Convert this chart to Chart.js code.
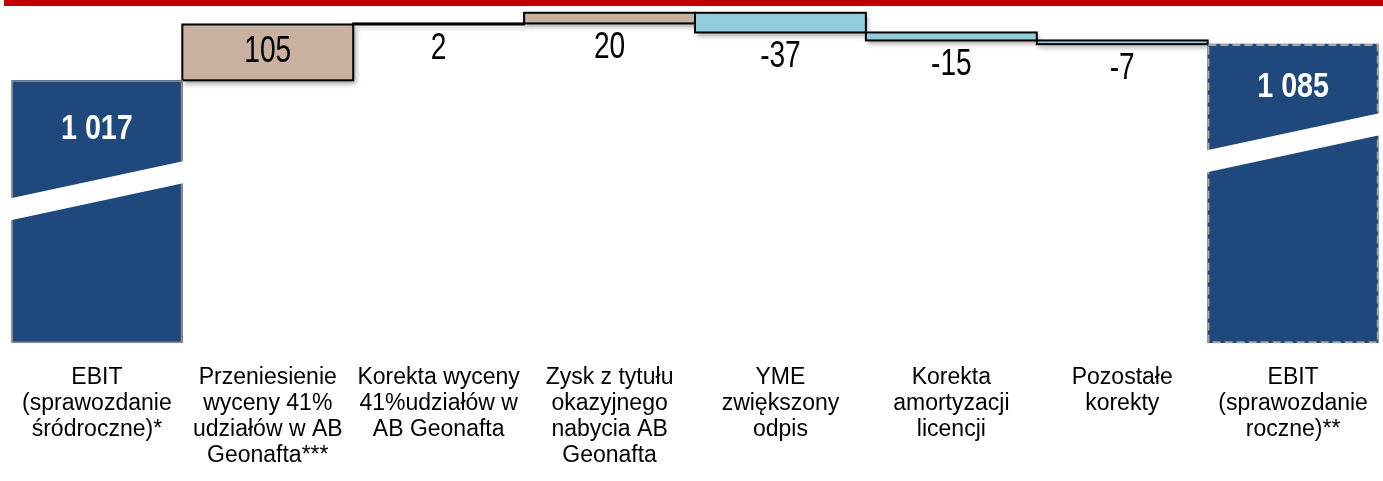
<!DOCTYPE html>
<html>
<head>
<meta charset="utf-8">
<script src="https://cdn.jsdelivr.net/npm/chart.js@4/dist/chart.umd.min.js"></script>
<style>
  html, body { margin: 0; padding: 0; background: #fff; overflow: hidden; }
  #wrap { position: relative; width: 1390px; height: 494px; }
</style>
</head>
<body>
<div id="wrap"><canvas id="c"></canvas></div>
<script>
// ---- data ----
const categories = [
  ['EBIT', '(sprawozdanie', 'śródroczne)*'],
  ['Przeniesienie', 'wyceny 41%', 'udziałów w AB', 'Geonafta***'],
  ['Korekta wyceny', '41%udziałów w', 'AB Geonafta'],
  ['Zysk z tytułu', 'okazyjnego', 'nabycia AB', 'Geonafta'],
  ['YME', 'zwiększony', 'odpis'],
  ['Korekta', 'amortyzacji', 'licencji'],
  ['Pozostałe', 'korekty'],
  ['EBIT', '(sprawozdanie', 'roczne)**']
];
const startTotal = 1017;
const changes = [105, 2, 20, -37, -15, -7];
const endTotal = 1085;

// ---- axis range (broken axis) ----
const AXIS_MIN = 523;
const AXIS_MAX = 1153;

// ---- build floating bars from the values ----
const totalsData = categories.map(() => null);
totalsData[0] = [AXIS_MIN, startTotal];
totalsData[categories.length - 1] = [AXIS_MIN, endTotal];

const changesData = categories.map(() => null);
let level = startTotal;
changes.forEach((d, i) => {
  changesData[i + 1] = [level, level + d];
  level += d;
});

const posColor = '#C9B09F';
const negColor = '#93CDDD';
const totalColor = '#1F497D';
const changeColors = categories.map((_, i) => {
  const d = changes[i - 1];
  return d === undefined ? 'rgba(0,0,0,0)' : (d >= 0 ? posColor : negColor);
});

const SANS = '"Liberation Sans", Arial, sans-serif';
const breakFrac = { 0: 0.42, 7: 0.33 };

function fmt(v) {
  return String(Math.abs(v)).replace(/\B(?=(\d{3})+(?!\d))/g, ' ');
}

function narrowText(ctx, text, x, y, font, color, sx) {
  ctx.save();
  ctx.translate(x, y);
  ctx.scale(sx, 1);
  ctx.font = font;
  ctx.fillStyle = color;
  ctx.textAlign = 'center';
  ctx.textBaseline = 'middle';
  ctx.fillText(text, 0, 0);
  ctx.restore();
}

const decor = {
  id: 'decor',
  beforeDraw(chart) {
    const ctx = chart.ctx;
    ctx.save();
    ctx.fillStyle = '#C00000';
    ctx.fillRect(4, 0, chart.width, 6);
    ctx.restore();
  },
  beforeDatasetDraw(chart, args) {
    if (args.index === 1) {
      const ctx = chart.ctx;
      ctx.save();
      ctx.shadowColor = 'rgba(0,0,0,0.35)';
      ctx.shadowBlur = 5;
      ctx.shadowOffsetX = 2;
      ctx.shadowOffsetY = 3;
    }
  },
  afterDatasetDraw(chart, args) {
    if (args.index === 1) {
      const ctx = chart.ctx;
      ctx.shadowColor = 'rgba(0,0,0,0)';
      ctx.strokeStyle = '#000000';
      ctx.lineWidth = 2;
      chart.getDatasetMeta(1).data.forEach((bar, i) => {
        if (!changesData[i]) return;
        const { x, y, base, width } = bar.getProps(['x', 'y', 'base', 'width'], true);
        const top = Math.min(y, base), h = Math.abs(base - y);
        ctx.strokeRect(x - width / 2, top, width, Math.max(h, 1));
      });
      ctx.restore();
    }
  },
  afterDatasetsDraw(chart) {
    const ctx = chart.ctx;
    const totMeta = chart.getDatasetMeta(0);
    const chgMeta = chart.getDatasetMeta(1);
    ctx.save();
    totMeta.data.forEach((bar, i) => {
      if (!totalsData[i]) return;
      const { x, y, base, width } = bar.getProps(['x', 'y', 'base', 'width'], true);
      const l = x - width / 2, r = x + width / 2;
      if (i === 0) {
        ctx.setLineDash([]);
        ctx.strokeStyle = '#8C8C8C';
        ctx.lineWidth = 1.5;
      } else {
        ctx.setLineDash([8, 4]);
        ctx.strokeStyle = '#A6A6A6';
        ctx.lineWidth = 2;
      }
      ctx.strokeRect(l + 0.75, y + 0.75, width - 1.5, base - y - 1.5);
      ctx.setLineDash([]);
      const h = base - y;
      const cy = y + h * breakFrac[i];
      const slope = -37 / 172;
      const half = 11;
      const yl = cy - slope * (width / 2 + 3);
      const yr = cy + slope * (width / 2 + 3);
      ctx.fillStyle = '#ffffff';
      ctx.beginPath();
      ctx.moveTo(l - 3, yl - half);
      ctx.lineTo(r + 3, yr - half);
      ctx.lineTo(r + 3, yr + half);
      ctx.lineTo(l - 3, yl + half);
      ctx.closePath();
      ctx.fill();
      const v = totalsData[i][1];
      const stripeTop = cy - half;
      narrowText(ctx, fmt(v), x, (y + stripeTop) / 2 - 1, 'bold 35px ' + SANS, '#ffffff', 0.82);
    });
    chgMeta.data.forEach((bar, i) => {
      if (!changesData[i]) return;
      const d = changes[i - 1];
      const { x, y, base } = bar.getProps(['x', 'y', 'base'], true);
      const top = Math.min(y, base), bottom = Math.max(y, base);
      const text = (d < 0 ? '-' : '') + fmt(d);
      const ty = (bottom - top) > 40 ? (top + bottom) / 2 : bottom + 25;
      narrowText(ctx, text, x, ty, '36px ' + SANS, '#000000', 0.78);
    });
    ctx.restore();
  }
};

new Chart(document.getElementById('c'), {
  type: 'bar',
  data: {
    labels: categories,
    datasets: [
      {
        label: 'EBIT',
        data: totalsData,
        backgroundColor: totalColor,
        borderWidth: 0,
        grouped: false,
        barPercentage: 1,
        categoryPercentage: 1
      },
      {
        label: 'Zmiany',
        data: changesData,
        backgroundColor: changeColors,
        borderWidth: 0,
        grouped: false,
        barPercentage: 1,
        categoryPercentage: 1
      }
    ]
  },
  options: {
    responsive: true,
    maintainAspectRatio: false,
    animation: false,
    layout: { padding: { left: 10, right: 3, top: 8, bottom: 3 } },
    plugins: {
      legend: { display: false },
      tooltip: { enabled: false },
      title: { display: false }
    },
    scales: {
      x: {
        grid: { display: false, drawTicks: false },
        border: { display: false },
        ticks: {
          autoSkip: false,
          maxRotation: 0,
          minRotation: 0,
          padding: 22,
          color: '#000000',
          font: { family: SANS, size: 23, lineHeight: 1.13 }
        }
      },
      y: {
        display: false,
        min: AXIS_MIN,
        max: AXIS_MAX
      }
    }
  },
  plugins: [decor]
});
</script>
</body>
</html>
